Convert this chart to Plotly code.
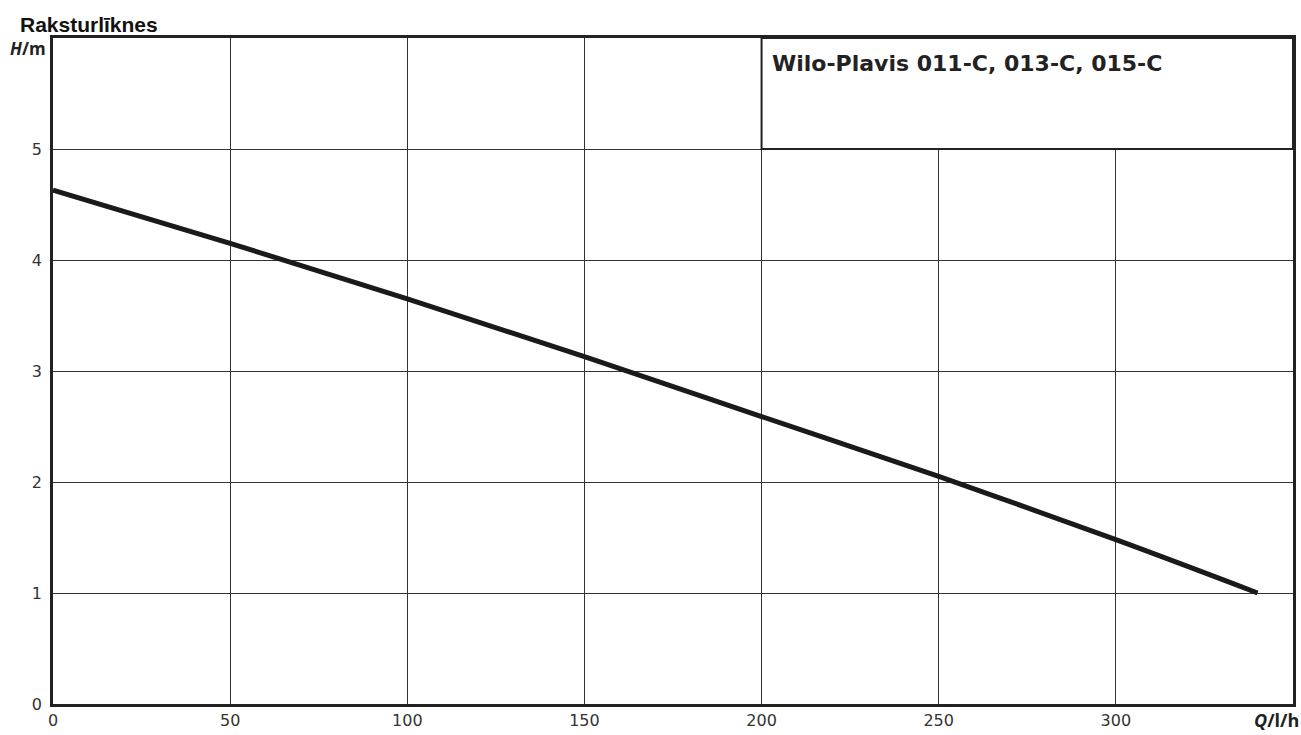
import plotly.graph_objects as go

Q = [0, 50, 100, 150, 200, 250, 300, 340]
H = [4.63, 4.15, 3.65, 3.13, 2.59, 2.05, 1.48, 1.0]
x_ticks = [0, 50, 100, 150, 200, 250, 300]
y_ticks = [0, 1, 2, 3, 4, 5]
title_text = "Raksturlīknes"
box_text = "Wilo-Plavis 011-C, 013-C, 015-C"

fig = go.Figure()
fig.add_trace(go.Scatter(x=Q, y=H, mode="lines", line=dict(color="#1a1a1a", width=5, shape="spline"),
                         showlegend=False, hoverinfo="skip"))

fig.add_shape(type="rect", xref="x", yref="y", x0=200, x1=350, y0=5, y1=6,
              fillcolor="white", line=dict(color="#222", width=2), layer="above")
fig.add_annotation(xref="x", yref="y", x=202.5, y=5.77, text="<b>" + box_text + "</b>", showarrow=False,
                   xanchor="left", yanchor="middle", font=dict(family="DejaVu Sans", size=22, color="#222"))

fig.add_annotation(xref="paper", yref="paper", x=0, y=1, xshift=-35, yshift=0, text="<b>" + title_text + "</b>",
                   showarrow=False, xanchor="left", yanchor="bottom",
                   font=dict(family="Liberation Sans", size=21, color="#111"))
fig.add_annotation(xref="paper", yref="paper", x=0, y=1, xshift=-5, yshift=3, text="<b><i>H</i>/m</b>",
                   showarrow=False, xanchor="right", yanchor="top",
                   font=dict(family="Open Sans", size=17, color="#222"))
fig.add_annotation(xref="paper", yref="paper", x=1, y=0, xshift=8, yshift=-2, text="<b><i>Q</i>/l/h</b>",
                   showarrow=False, xanchor="right", yanchor="top",
                   font=dict(family="Open Sans", size=18, color="#222"))

fig.update_xaxes(range=[0, 350], tickvals=x_ticks, ticktext=[str(v) for v in x_ticks],
                 showgrid=True, gridcolor="#333", gridwidth=1, zeroline=False,
                 showline=True, linecolor="#222", linewidth=2.5, mirror=True,
                 ticks="", ticklabelstandoff=0,
                 tickfont=dict(family="DejaVu Sans", size=16, color="#333"))
fig.update_yaxes(range=[0, 6], tickvals=y_ticks, ticktext=[str(v) for v in y_ticks],
                 showgrid=True, gridcolor="#333", gridwidth=1, zeroline=False,
                 showline=True, linecolor="#222", linewidth=2.5, mirror=True,
                 ticks="", ticklabelstandoff=5,
                 tickfont=dict(family="DejaVu Sans", size=16, color="#333"))

fig.update_layout(width=1301, height=735, margin=dict(l=53, r=5, t=38, b=24),
                  plot_bgcolor="white", paper_bgcolor="white")
fig.write_html("out.html", config={"displayModeBar": False},
               post_script="document.body.style.margin='0';document.body.style.overflow='hidden';")
